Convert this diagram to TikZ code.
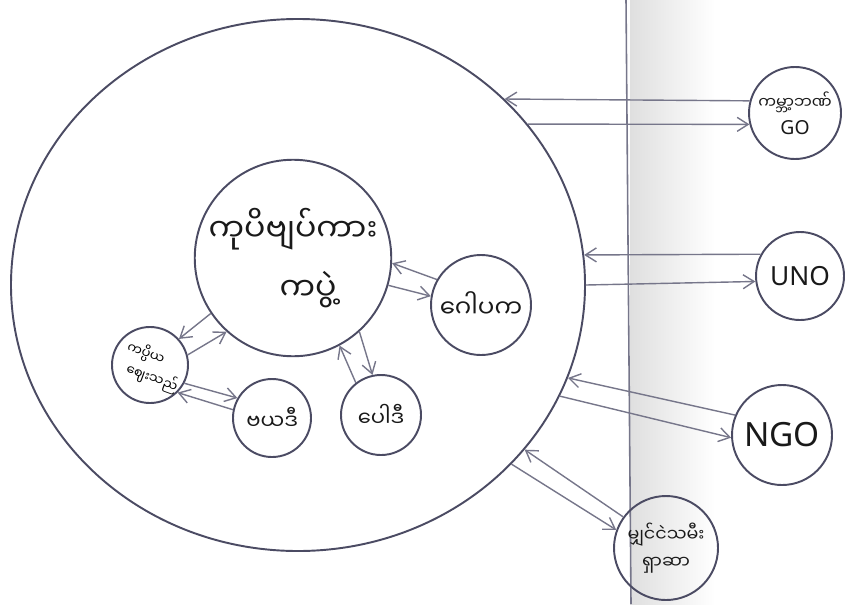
\documentclass[tikz,border=0pt]{standalone}
\usepackage{fontspec}
\setmainfont{Noto Sans}
\newfontfamily\mmfont[Script=Myanmar]{Noto Sans Myanmar UI}
\usetikzlibrary{shapes.geometric,arrows.meta}
\definecolor{pencil}{RGB}{75,75,99}
\definecolor{faint}{RGB}{118,118,138}
\tikzset{party/.style = {circle, draw=pencil, line width=1.1pt, inner sep=0pt,
    align=center, text=black!90},
  link/.style = {draw=faint, line width=.8pt,
    -{Straight Barb[length=2.2mm,width=2.8mm]}}}

\begin{document}
\begin{tikzpicture}[x=.2mm, y=-.2mm]
      \useasboundingbox (0,0) rectangle (846,604);
      \shade[left color=gray!25, right color=white] (630,0) rectangle (715,604);
      \draw[faint, line width=.9pt] (626,0) -- (631,604);
      % the big ring and what sits inside it
      \node[ellipse, draw=pencil, line width=1.1pt, minimum width=114.8mm,
        minimum height=106.4mm] (big) at (298,285) {};
      \node[party, minimum size=39.2mm, font=\mmfont\fontsize{18}{34}\selectfont]
        (fest) at (293,258) {ကုပိဗျပ်ကား\\\hspace*{6mm}ကပွဲ့};
      \node[party, minimum size=20mm, font=\mmfont\fontsize{14}{18}\selectfont]
        (trust) at (481,305) {ဂေါပက};
      \node[party, minimum size=15.2mm] (kid) at (150,365) {};
      \node[rotate=-20, font=\mmfont\fontsize{7.5}{10}\selectfont, inner sep=0pt]
        (kidtop) at (146,353) {ကပ္ပိယ};
      \node[rotate=-20, font=\mmfont\fontsize{7.5}{10}\selectfont, inner sep=0pt]
        (kidlow) at (152,378) {ဈေးသည်};
      \node[party, minimum size=15.6mm, font=\mmfont\fontsize{12}{16}\selectfont]
        (md) at (272,418) {ဗယဒီ};
      \node[party, minimum size=16mm, font=\mmfont\fontsize{12}{16}\selectfont]
        (pd) at (381,415) {ပေါဒီ};
      % outside the ring
      \node[party, minimum size=18.4mm, font=\mmfont\fontsize{9}{15}\selectfont]
        (gov) at (795,113) {ကမ္ဘာ့ဘဏ်\\{\normalfont\fontsize{11}{15}\selectfont GO}};
      \node[party, minimum size=17.6mm, font=\fontsize{15}{18}\selectfont]
        (un) at (800,276) {UNO};
      \node[party, minimum size=20mm, font=\fontsize{19}{22}\selectfont]
        (ngo) at (782,435) {NGO};
      \node[party, minimum size=20.8mm, font=\mmfont\fontsize{10}{15}\selectfont]
        (town) at (666,548) {မျှင်ငဲသမီး\\ရှာဆာ};
      % two ways, one line each
      \draw[link] (gov.165) -- (big.42);
      \draw[link] (big.35) -- (gov.194);
      \draw[link] (un.151) -- (big.6);
      \draw[link] (big.-0.5) -- (un.187);
      \draw[link] (ngo.157) -- (big.-19);
      \draw[link] (big.-23) -- (ngo.183);
      \draw[link] (town.144) -- (big.-36);
      \draw[link] (big.-40) -- (town.160);
      \draw[link] (trust.150) -- (fest.-3);
      \draw[link] (fest.-16) -- (trust.170);
      \draw[link] (fest.214) -- (kid.42);
      \draw[link] (kid.15) -- (fest.228);
      \draw[link] (kid.-28) -- (md.150);
      \draw[link] (md.168) -- (kid.-45);
      \draw[link] (pd.128) -- (fest.-62);
      \draw[link] (fest.-48) -- (pd.102);
\end{tikzpicture}
\end{document}
